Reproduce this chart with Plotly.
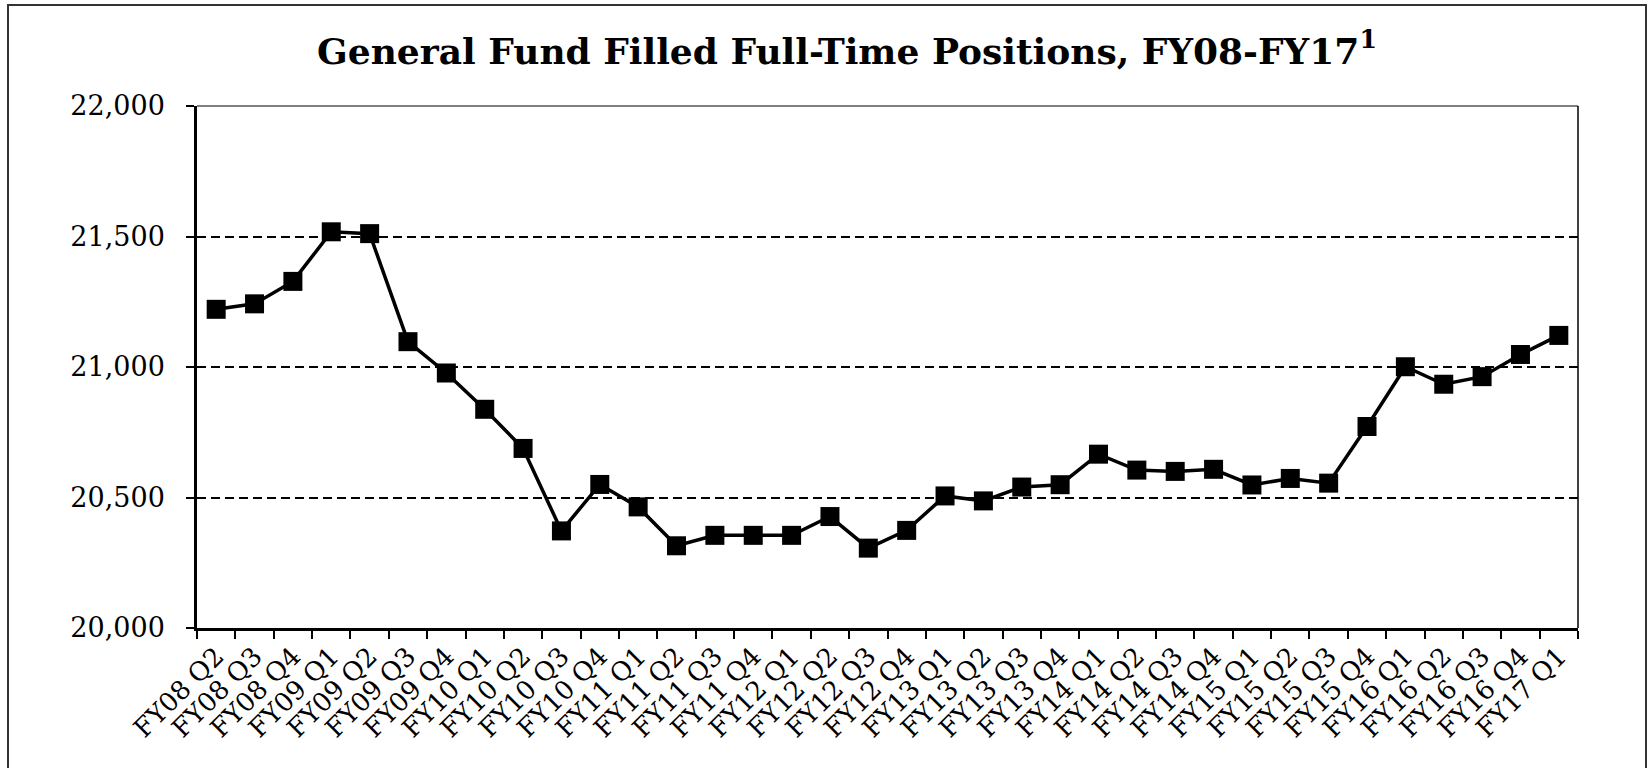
import plotly.graph_objects as go

quarters = [
    "FY08 Q2", "FY08 Q3", "FY08 Q4",
    "FY09 Q1", "FY09 Q2", "FY09 Q3", "FY09 Q4",
    "FY10 Q1", "FY10 Q2", "FY10 Q3", "FY10 Q4",
    "FY11 Q1", "FY11 Q2", "FY11 Q3", "FY11 Q4",
    "FY12 Q1", "FY12 Q2", "FY12 Q3", "FY12 Q4",
    "FY13 Q1", "FY13 Q2", "FY13 Q3", "FY13 Q4",
    "FY14 Q1", "FY14 Q2", "FY14 Q3", "FY14 Q4",
    "FY15 Q1", "FY15 Q2", "FY15 Q3", "FY15 Q4",
    "FY16 Q1", "FY16 Q2", "FY16 Q3", "FY16 Q4",
    "FY17 Q1",
]
positions = [
    21221, 21242, 21328,
    21518, 21511, 21097, 20977,
    20838, 20688, 20372, 20550,
    20464, 20315, 20355, 20355,
    20355, 20427, 20306, 20374,
    20506, 20487, 20540, 20549,
    20666, 20605, 20600, 20608,
    20548, 20573, 20555, 20772,
    21001, 20934, 20963, 21048,
    21121,
]
y_ticks = [20000, 20500, 21000, 21500, 22000]
y_tick_labels = ["20,000", "20,500", "21,000", "21,500", "22,000"]
title_text = "General Fund Filled Full-Time Positions, FY08-FY17<sup>1</sup>"

FONT = "DejaVu Serif"
W, H = 1652, 768
L, R, T, B = 197, 74, 106, 140
pw, ph = W - L - R, H - T - B

fig = go.Figure()
fig.add_trace(go.Scatter(
    x=quarters, y=positions, mode="lines+markers",
    line=dict(color="black", width=3.5),
    marker=dict(symbol="square", size=19, color="black", line=dict(width=0)),
    showlegend=False, cliponaxis=False,
))

def px_x(p):
    return (p - L) / pw

def px_y(p):
    return (H - B - p) / ph

fig.update_layout(
    width=W, height=H,
    margin=dict(l=L, r=R, t=T, b=B, autoexpand=False),
    paper_bgcolor="white", plot_bgcolor="white",
    font=dict(family=FONT, color="black", size=27),
    title=dict(
        text=title_text, x=847 / W, xanchor="center", xref="container",
        y=1 - 51 / H, yanchor="middle", yref="container",
        font=dict(family=FONT, size=36, color="black", weight="bold"),
    ),
    xaxis=dict(
        type="category", tickangle=-45, tickson="boundaries",
        ticks="outside", ticklen=8, tickwidth=2, tickcolor="black",
        showline=True, linecolor="black", linewidth=2.5,
        showgrid=False, zeroline=False, automargin=False,
        tickfont=dict(family=FONT, size=26, color="black"),
        range=[-0.5, len(quarters) - 0.5],
    ),
    yaxis=dict(
        range=[20000, 22000], tickvals=y_ticks, ticktext=y_tick_labels,
        ticks="outside", ticklen=8, tickwidth=2, tickcolor="black",
        showline=True, linecolor="black", linewidth=2.5,
        showgrid=True, gridcolor="black", gridwidth=1.5, griddash="9px,5px",
        zeroline=False, automargin=False, ticklabelstandoff=16,
        tickfont=dict(family=FONT, size=27, color="black"),
    ),
    shapes=[
        dict(type="line", xref="paper", yref="paper", x0=0, x1=1, y0=1, y1=1,
             line=dict(color="black", width=1.2)),
        dict(type="line", xref="paper", yref="paper", x0=1, x1=1, y0=0, y1=1,
             line=dict(color="black", width=1.5)),
        dict(type="rect", xref="paper", yref="paper",
             x0=px_x(8), x1=px_x(1646), y0=px_y(5), y1=px_y(790),
             line=dict(color="#333333", width=2), fillcolor="rgba(0,0,0,0)", layer="below"),
    ],
)

fig.write_html("out.html", config={"displayModeBar": False},
               post_script="document.body.style.margin='0';")
